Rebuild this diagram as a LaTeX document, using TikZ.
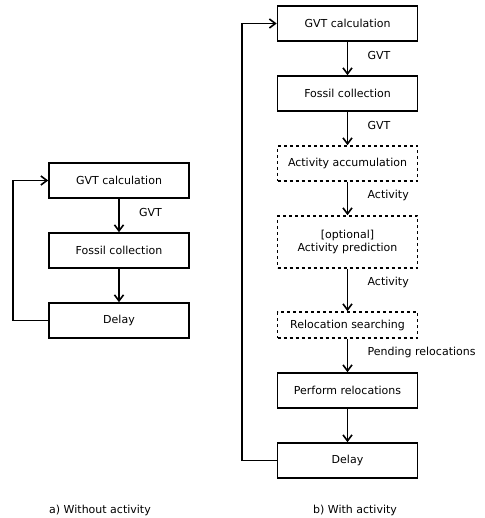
\documentclass[tikz,border=0pt]{standalone}
\usepackage{fontspec}
\setmainfont{DejaVu Sans}
\usetikzlibrary{arrows.meta}
\begin{document}
\begin{tikzpicture}[x=1pt,y=-1pt,
    box/.style={draw,line width=1.6pt,minimum width=140pt,minimum height=35pt,align=center,inner sep=2pt},
    optbox/.style={box,dash pattern=on 3pt off 3pt},
    arr/.style={line width=1.6pt,-{Straight Barb[length=6pt,width=9pt,line width=1.6pt]}},
    lbl/.style={at start,anchor=west,xshift=16pt,yshift=-14pt},
    font=\fontsize{11}{13}\selectfont]
    \useasboundingbox (0,0) rectangle (484,518);

        \node[box] (gvtA) at (119,180.5) {GVT calculation};
        \node[box] (fossilA) at (119,250.5) {Fossil collection};
        \node[box] (delayA) at (119,320.5) {Delay};
        \draw[arr] (gvtA) -- node[lbl] {GVT} (fossilA);
        \draw[arr] (fossilA) -- (delayA);
        \draw[arr] (delayA.west) -- ++(-35,0) |- (gvtA.west);

        \node[box] (gvtB) at (347.5,23.5) {GVT calculation};
        \node[box] (fossilB) at (347.5,93.5) {Fossil collection};
        \node[optbox] (accum) at (347.5,163.5) {Activity accumulation};
        \node[optbox,minimum height=52pt] (predict) at (347.5,242) {[optional]\\Activity prediction};
        \node[optbox,minimum height=26pt] (search) at (347.5,325) {Relocation searching};
        \node[box] (perform) at (347.5,390.5) {Perform relocations};
        \node[box] (delayB) at (347.5,460.5) {Delay};
        \draw[arr] (gvtB) -- node[lbl] {GVT} (fossilB);
        \draw[arr] (fossilB) -- node[lbl] {GVT} (accum);
        \draw[arr] (accum) -- node[lbl] {Activity} (predict);
        \draw[arr] (predict) -- node[lbl] {Activity} (search);
        \draw[arr] (search) -- node[lbl] {Pending relocations} (perform);
        \draw[arr] (perform) -- (delayB);
        \draw[arr] (delayB.west) -- ++(-35,0) |- (gvtB.west);

        \node (capA) at (100,510) {a) Without activity};
        \node (capB) at (355,510) {b) With activity};
    \end{tikzpicture}
\end{document}
